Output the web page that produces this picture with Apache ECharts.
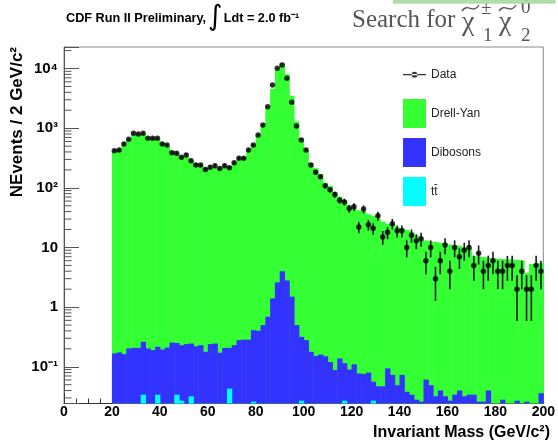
<!DOCTYPE html>
<html>
<head>
<meta charset="utf-8">
<script src="https://cdn.jsdelivr.net/npm/echarts@6/dist/echarts.min.js"></script>
<style>
  html, body { margin: 0; padding: 0; background: #fff; }
  #chart { width: 558px; height: 446px; }
</style>
</head>
<body>
<div id="chart"></div>
<script>
// Dilepton invariant-mass spectrum, 2 GeV/c^2 bins from 20 to 200 GeV/c^2 (bin centres)
const massBins = [
  21, 23, 25, 27, 29, 31, 33, 35, 37, 39,
  41, 43, 45, 47, 49, 51, 53, 55, 57, 59,
  61, 63, 65, 67, 69, 71, 73, 75, 77, 79,
  81, 83, 85, 87, 89, 91, 93, 95, 97, 99,
  101, 103, 105, 107, 109, 111, 113, 115, 117, 119,
  121, 123, 125, 127, 129, 131, 133, 135, 137, 139,
  141, 143, 145, 147, 149, 151, 153, 155, 157, 159,
  161, 163, 165, 167, 169, 171, 173, 175, 177, 179,
  181, 183, 185, 187, 189, 191, 193, 195, 197, 199
];

// Observed events per bin
const dataCounts = [
  419, 430, 543, 652, 821, 800, 821, 677, 677, 677,
  543, 522, 388, 379, 325, 355, 285, 241, 241, 204,
  221, 235, 212, 235, 217, 264, 313, 313, 430, 522,
  769, 1132, 2296, 5309, 10120, 11490, 6870, 2720, 1089, 634,
  430, 241, 182, 153, 108, 93, 77, 62, 58, 45,
  48, 22, 44, 24, 21, 34, 15, 18, 25, 19,
  19, 10, 16, 13, 14, 6, 10, 3, 6, 11,
  4, 10, 7, 9, 10, 5, 8, 4, 5, 6,
  4, 4, 5, 5, 2, 4, 2, 2, 5, 4
];

// Expected Drell-Yan events per bin
const drellYan = [
  410, 440, 530, 640, 780, 800, 790, 720, 680, 640,
  560, 500, 420, 380, 340, 330, 290, 255, 240, 215,
  215, 220, 215, 225, 230, 260, 300, 330, 420, 530,
  760, 1150, 2250, 4600, 9500, 12300, 8000, 3500, 1300, 680,
  430, 258, 212, 170, 122, 107, 86, 71, 62, 51,
  45, 42, 40, 36, 34, 31, 27, 25, 24.6, 22,
  21, 19.6, 18.4, 16, 13.5, 13, 12.6, 12.3, 12, 11.6,
  11.2, 10.9, 10.6, 10.1, 9.7, 7.2, 7.0, 6.9, 6.7, 6.6,
  6.5, 6.4, 6.3, 6.3, 6.2, 6.1, 3.7, 5.3, 5.4, 5.4
];

// Expected diboson (WW/WZ/ZZ) events per bin
const dibosons = [
  0.167, 0.174, 0.163, 0.203, 0.207, 0.207, 0.228, 0.203, 0.19, 0.182,
  0.195, 0.21, 0.255, 0.216, 0.203, 0.24, 0.213, 0.22, 0.23, 0.178,
  0.24, 0.245, 0.172, 0.207, 0.164, 0.23, 0.28, 0.285, 0.285, 0.384,
  0.40, 0.50, 0.69, 1.4, 2.6, 4.0, 2.8, 1.5, 0.5, 0.29,
  0.28, 0.178, 0.152, 0.16, 0.15, 0.12, 0.088, 0.138, 0.088, 0.09,
  0.11, 0.077, 0.076, 0.08, 0.029, 0.047, 0.047, 0.094, 0.073, 0.049,
  0.073, 0.038, 0.034, 0.028, 0.026, 0.061, 0.049, 0.032, 0.04, 0.032,
  0.027, 0.034, 0.04, 0.032, 0.034, 0.034, 0.026, 0.026, 0.04, 0,
  0, 0.028, 0, 0, 0.027, 0, 0.026, 0, 0, 0.036
];

// Expected top-pair events per bin
const ttbar = [
  0, 0, 0, 0, 0, 0, 0.034, 0, 0, 0.034,
  0, 0, 0, 0.034, 0.027, 0, 0.032, 0, 0, 0,
  0, 0, 0, 0, 0.043, 0, 0, 0, 0, 0.026,
  0, 0, 0, 0, 0, 0, 0, 0, 0, 0.027,
  0, 0, 0, 0, 0, 0, 0, 0, 0.027, 0,
  0, 0, 0, 0, 0.027, 0, 0, 0, 0, 0,
  0, 0, 0, 0, 0, 0, 0, 0, 0, 0,
  0, 0, 0, 0, 0, 0, 0, 0, 0, 0,
  0, 0, 0, 0, 0, 0, 0, 0, 0, 0
];

// Decade labels on the logarithmic y axis, keyed by exponent
const yDecadeLabels = { '-1': '10\u207B\u00B9', '0': '1', '1': '10', '2': '10\u00B2', '3': '10\u00B3', '4': '10\u2074' };

const BIN_WIDTH = 2;
const Y_MIN = 0.0242;
const Y_MAX = 23000;
const FONT = '"Liberation Sans", Arial, Helvetica, sans-serif';
const SERIF = '"Liberation Serif", "Times New Roman", serif';

const COLOR_DY = '#33ff33';
const COLOR_DIB = '#3333ff';
const COLOR_TT = '#00ffff';
const HEADER_GREY = '#555';

// Stack tops: tt, tt + dibosons, tt + dibosons + Drell-Yan
const topTt = ttbar.slice();
const topDib = dibosons.map((v, i) => v + ttbar[i]);
const topAll = drellYan.map((v, i) => v + topDib[i]);

// Minor ticks of the log axis: 2..9 x 10^k
const yMinorTicks = [];
for (let k = -2; k <= 4; k++) {
  for (let m = 2; m <= 9; m++) {
    const v = m * Math.pow(10, k);
    if (v > Y_MIN && v < Y_MAX) yMinorTicks.push([0, v]);
  }
}

function histogramSeries(name, color, tops) {
  return {
    type: 'custom',
    name: name,
    data: massBins.map((c, i) => [c, tops[i]]),
    encode: { x: 0, y: 1 },
    itemStyle: { color: color },
    silent: true,
    renderItem: function (params, api) {
      const c = api.value(0);
      const v = api.value(1);
      if (!(v > 0)) return null;
      const cs = params.coordSys;
      const left = api.coord([c - BIN_WIDTH / 2, v]);
      const right = api.coord([c + BIN_WIDTH / 2, v]);
      const bottom = cs.y + cs.height;
      const top = Math.max(left[1], cs.y);
      if (top >= bottom) return null;
      return {
        type: 'rect',
        shape: { x: left[0], y: top, width: right[0] - left[0] + 0.5, height: bottom - top },
        style: { fill: color }
      };
    }
  };
}

// legend marker for the data: horizontal line with a dot
const DATA_ICON = 'path://M0,0h0.01v0.01h-0.01z M0,14h23v1.3h-23z M8.6,14.65a2.9,2.9 0 1 0 5.8,0a2.9,2.9 0 1 0 -5.8,0z M22.99,28.99h0.01v0.01h-0.01z';

// wavy accent drawn over a chi
function tilde(x) {
  return {
    type: 'bezierCurve',
    shape: { x1: x, y1: 11, cpx1: x + 6, cpy1: 2, cpx2: x + 11, cpy2: 15, x2: x + 17, y2: 5 },
    style: { fill: null, stroke: HEADER_GREY, lineWidth: 1.4 }
  };
}

const chart = echarts.init(document.getElementById('chart'), null, { renderer: 'canvas' });

chart.setOption({
  animation: false,
  backgroundColor: '#ffffff',
  grid: {
    left: 64, right: 9, top: 47, bottom: 42.5,
    show: true, borderColor: '#8a8a8a', borderWidth: 1, backgroundColor: 'transparent'
  },
  legend: {
    orient: 'vertical',
    left: 403, top: 60,
    padding: 0,
    itemWidth: 23, itemHeight: 29, itemGap: 10,
    selectedMode: false,
    textStyle: { fontFamily: FONT, fontSize: 12, color: '#222' },
    data: [
      { name: 'Data', icon: DATA_ICON },
      { name: 'Drell-Yan', icon: 'rect' },
      { name: 'Dibosons', icon: 'rect' },
      { name: 'tt\u0304', icon: 'rect' }
    ]
  },
  xAxis: {
    type: 'value',
    min: 0, max: 200, interval: 20,
    axisLine: { show: true, lineStyle: { color: '#333', width: 1 } },
    axisTick: { show: true, inside: true, length: 10, lineStyle: { color: '#333' } },
    minorTick: { show: true, splitNumber: 4, length: 5, lineStyle: { color: '#333' } },
    splitLine: { show: false },
    axisLabel: { fontFamily: FONT, fontWeight: 'bold', fontSize: 14, color: '#000', margin: 2 }
  },
  yAxis: {
    type: 'log',
    logBase: 10,
    min: Y_MIN, max: Y_MAX,
    splitNumber: 6,
    axisLine: { show: true, lineStyle: { color: '#555', width: 1 } },
    axisTick: { show: true, inside: true, length: 15, lineStyle: { color: '#555' } },
    splitLine: { show: false },
    axisLabel: {
      fontFamily: FONT, fontWeight: 'bold', fontSize: 15, color: '#000', margin: 6,
      formatter: function (v) {
        const e = Math.log10(v);
        const r = Math.round(e);
        if (Math.abs(e - r) > 1e-6) return '';
        return yDecadeLabels[String(r)] || '';
      }
    }
  },
  graphic: [
    {
      type: 'text', left: 66, top: 4,
      style: {
        text: '{b|CDF Run II Preliminary,}{i|\u222B}{b|Ldt = 2.0 fb\u207B\u00B9}',
        rich: {
          b: { fontFamily: FONT, fontWeight: 'bold', fontSize: 12.7, fill: '#000' },
          i: { fontFamily: '"DejaVu Sans", sans-serif', fontSize: 28, fill: '#000', padding: [0, 1, 0, 2] }
        }
      }
    },
    { type: 'text', left: 352, top: 8, style: { text: 'Search for', fontFamily: SERIF, fontSize: 25, fill: HEADER_GREY } },
    { type: 'text', left: 462, top: 9, style: { text: '\u03C7', fontFamily: SERIF, fontSize: 28, fill: HEADER_GREY } },
    tilde(462),
    { type: 'text', left: 481, top: 0, style: { text: '\u00B1', fontFamily: SERIF, fontSize: 19, fill: HEADER_GREY } },
    { type: 'text', left: 483, top: 27, style: { text: '1', fontFamily: SERIF, fontSize: 19, fill: HEADER_GREY } },
    { type: 'text', left: 499, top: 9, style: { text: '\u03C7', fontFamily: SERIF, fontSize: 28, fill: HEADER_GREY } },
    tilde(499),
    { type: 'text', left: 521, top: -1, style: { text: '0', fontFamily: SERIF, fontSize: 19, fill: HEADER_GREY } },
    { type: 'text', left: 521, top: 27, style: { text: '2', fontFamily: SERIF, fontSize: 19, fill: HEADER_GREY } },
    {
      type: 'rect', left: 393, top: 0,
      shape: { width: 162, height: 3 },
      style: { fill: '#b6dfb0', stroke: '#86c486', lineWidth: 0.5 }
    },
    {
      type: 'text', x: 17, y: 47, rotation: Math.PI / 2,
      style: {
        text: 'NEvents / 2 GeV/c\u00B2', fontFamily: FONT, fontWeight: 'bold', fontSize: 17,
        fill: '#000', align: 'right', verticalAlign: 'middle'
      }
    },
    {
      type: 'text', right: 8, top: 425,
      style: { text: 'Invariant Mass (GeV/c\u00B2)', fontFamily: FONT, fontWeight: 'bold', fontSize: 16, fill: '#000' }
    }
  ],
  series: [
    histogramSeries('Drell-Yan', COLOR_DY, topAll),
    histogramSeries('Dibosons', COLOR_DIB, topDib),
    histogramSeries('tt\u0304', COLOR_TT, topTt),
    {
      // minor ticks of the logarithmic axis
      type: 'custom',
      name: 'yMinor',
      silent: true,
      data: yMinorTicks,
      encode: { x: 0, y: 1 },
      renderItem: function (params, api) {
        const cs = params.coordSys;
        const p = api.coord([0, api.value(1)]);
        return {
          type: 'line',
          shape: { x1: cs.x, y1: p[1], x2: cs.x + 7.5, y2: p[1] },
          style: { stroke: '#555', lineWidth: 1 }
        };
      }
    },
    {
      // statistical uncertainties of the data
      type: 'custom',
      name: 'Data errors',
      silent: true,
      data: massBins.map((c, i) => [c, dataCounts[i]]),
      encode: { x: 0, y: 1 },
      renderItem: function (params, api) {
        const c = api.value(0);
        const n = api.value(1);
        if (!(n > 0)) return null;
        const s = Math.sqrt(n);
        const lo = Math.max(n - s, Y_MIN);
        const pHi = api.coord([c, n + s]);
        const pLo = api.coord([c, lo]);
        return {
          type: 'line',
          shape: { x1: pHi[0], y1: pHi[1], x2: pLo[0], y2: pLo[1] },
          style: { stroke: '#1a1a1a', lineWidth: 1.6 }
        };
      }
    },
    {
      type: 'scatter',
      name: 'Data',
      data: massBins.map((c, i) => [c, dataCounts[i]]),
      symbol: 'circle',
      symbolSize: 5.5,
      itemStyle: { color: '#000' },
      silent: true
    }
  ]
});
</script>
</body>
</html>
